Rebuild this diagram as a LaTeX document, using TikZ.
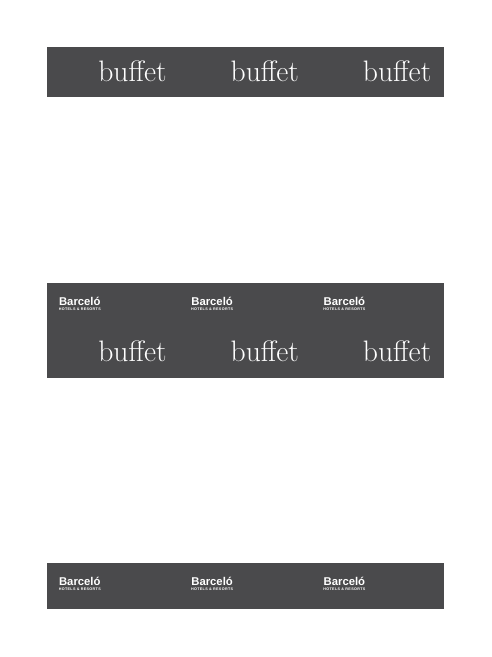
\documentclass[tikz,border=0pt]{standalone}
\usepackage{fontspec}
\usetikzlibrary{positioning}
\newfontfamily\brandfont{Liberation Sans}
\newfontfamily\brandsubfont[LetterSpace=9]{Liberation Sans}
\definecolor{bandgray}{HTML}{4A4A4C}
\tikzset{
  band/.style={fill=bandgray,draw=none,inner sep=0pt,minimum width=397pt},
  buffetword/.style={text=white,inner sep=0pt,font=\fontsize{29.6}{29.6}\selectfont},
  brandname/.style={text=white,inner sep=0pt,font=\brandfont\bfseries\fontsize{11.3}{11.3}\selectfont},
  brandsub/.style={text=white,inner sep=0pt,font=\brandsubfont\bfseries\fontsize{3.7}{3.7}\selectfont}
}
\begin{document}
\begin{tikzpicture}[x=1pt,y=-1pt,node distance=132.3pt]
  \useasboundingbox[fill=white] (0,0) rectangle (492,657);
  \node[band,minimum height=50pt]        (top) at (245.5,72){};
  \node[band,minimum height=95pt]        (middle) at (245.5,330.5){};
  \node[band,minimum height=46pt]        (bottom) at (245.5,586){};

  \node[buffetword]        (b1) at (132.5,71.2){buffet};
  \node[buffetword]        (b2) [right of=b1]{buffet};
  \node[buffetword]        (b3) [right of=b2]{buffet};

  \node[brandname]        (m1) at (79.8,301.3){Barceló};
  \node[brandname]        (m2) [right of=m1]{Barceló};
  \node[brandname]        (m3) [right of=m2]{Barceló};
  \node[brandsub]        (ms1) at (79.8,309.5){HOTELS \& RESORTS};
  \node[brandsub]        (ms2) [right of=ms1]{HOTELS \& RESORTS};
  \node[brandsub]        (ms3) [right of=ms2]{HOTELS \& RESORTS};

  \node[buffetword]        (c1) at (132.5,351.2){buffet};
  \node[buffetword]        (c2) [right of=c1]{buffet};
  \node[buffetword]        (c3) [right of=c2]{buffet};

  \node[brandname]        (n1) at (79.8,581.3){Barceló};
  \node[brandname]        (n2) [right of=n1]{Barceló};
  \node[brandname]        (n3) [right of=n2]{Barceló};
  \node[brandsub]        (ns1) at (79.8,589.5){HOTELS \& RESORTS};
  \node[brandsub]        (ns2) [right of=ns1]{HOTELS \& RESORTS};
  \node[brandsub]        (ns3) [right of=ns2]{HOTELS \& RESORTS};
\end{tikzpicture}
\end{document}
